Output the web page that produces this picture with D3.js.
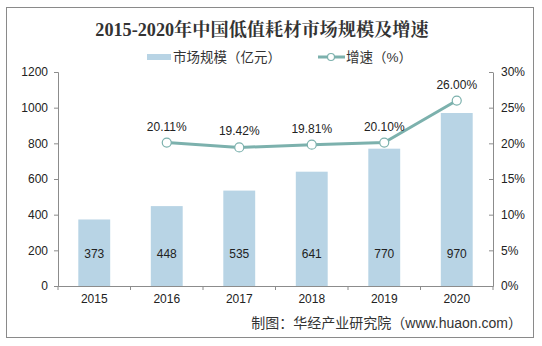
<!DOCTYPE html>
<html>
<head>
<meta charset="utf-8">
<script src="https://cdn.jsdelivr.net/npm/d3@7"></script>
<style>
  body { margin: 0; background: #fff; }
  text { font-family: "Liberation Sans", Arial, "Noto Sans CJK SC", sans-serif; }
</style>
</head>
<body>
<svg id="chart" width="542" height="346"></svg>
<script>
var years = ["2015", "2016", "2017", "2018", "2019", "2020"];
var marketSize = [373, 448, 535, 641, 770, 970];
var growth = [null, 20.11, 19.42, 19.81, 20.10, 26.00];
var leftTicks = [0, 200, 400, 600, 800, 1000, 1200];
var rightTicks = [0, 5, 10, 15, 20, 25, 30];

var svg = d3.select("#chart");
var barColor = "#b8d4e5";
var lineColor = "#7cb1ad";
var axisColor = "#8c8c8c";

// outer frame
svg.append("rect")
  .attr("x", 6.5).attr("y", 7.5)
  .attr("width", 527).attr("height", 330)
  .attr("fill", "#fff").attr("stroke", "#8a8a8a").attr("stroke-width", 1);

var m = { left: 58, right: 493, top: 72, bottom: 286 };

var x = d3.scaleBand().domain(years).range([m.left, m.right]).paddingInner(0.56).paddingOuter(0.28);
var xb = d3.scaleBand().domain(years).range([m.left, m.right]);
var yL = d3.scaleLinear().domain([0, 1200]).range([m.bottom, m.top]);
var yR = d3.scaleLinear().domain([0, 30]).range([m.bottom, m.top]);

// title
svg.append("text")
  .attr("x", 262).attr("y", 36)
  .attr("text-anchor", "middle")
  .style("font-family", "'Liberation Serif', 'DejaVu Serif', 'Noto Serif CJK SC', 'Noto Sans CJK SC', serif")
  .style("font-weight", "bold").style("font-size", "18.2px").attr("fill", "#333")
  .text("2015-2020年中国低值耗材市场规模及增速");

// legend
var lg = svg.append("g");
lg.append("rect").attr("x", 147).attr("y", 54).attr("width", 24).attr("height", 6).attr("fill", barColor);
lg.append("text").attr("x", 173).attr("y", 62).style("font-size", "13.5px").attr("fill", "#333").text("市场规模（亿元）");
lg.append("line").attr("x1", 318).attr("x2", 345).attr("y1", 57).attr("y2", 57)
  .attr("stroke", lineColor).attr("stroke-width", 3);
lg.append("circle").attr("cx", 331).attr("cy", 57).attr("r", 3.5)
  .attr("fill", "#fff").attr("stroke", lineColor).attr("stroke-width", 1.2);
lg.append("text").attr("x", 346).attr("y", 62).style("font-size", "13.5px").attr("fill", "#333").text("增速（%）");

// bars
svg.append("g").selectAll("rect")
  .data(marketSize)
  .enter()
  .append("rect")
  .attr("x", function (d, i) { return x(years[i]); })
  .attr("y", function (d) { return yL(d); })
  .attr("width", x.bandwidth())
  .attr("height", function (d) { return yL(0) - yL(d); })
  .attr("fill", barColor);

svg.append("g").selectAll("text")
  .data(marketSize)
  .enter()
  .append("text")
  .attr("x", function (d, i) { return xb(years[i]) + xb.bandwidth() / 2; })
  .attr("y", yL(180) + 4)
  .attr("text-anchor", "middle")
  .style("font-size", "12px").attr("fill", "#222")
  .text(function (d) { return d; });

// axes
var leftAxis = svg.append("g")
  .attr("transform", "translate(" + m.left + ",0)")
  .call(d3.axisLeft(yL).tickValues(leftTicks).tickSize(4).tickPadding(6).tickFormat(d3.format("d")));
var rightAxis = svg.append("g")
  .attr("transform", "translate(" + m.right + ",0)")
  .call(d3.axisRight(yR).tickValues(rightTicks).tickSize(0).tickPadding(8)
    .tickFormat(function (d) { return d + "%"; }));
rightAxis.selectAll(".tick").append("line").attr("x1", -4).attr("x2", 0).attr("stroke", axisColor);
var bottomAxis = svg.append("g")
  .attr("transform", "translate(0," + m.bottom + ")")
  .call(d3.axisBottom(xb).tickSize(0).tickPadding(8));
bottomAxis.selectAll(".boundary")
  .data(d3.range(years.length + 1))
  .enter()
  .append("line")
  .attr("x1", function (d) { return m.left + d * xb.step(); })
  .attr("x2", function (d) { return m.left + d * xb.step(); })
  .attr("y1", 0).attr("y2", 4)
  .attr("stroke", axisColor);

[leftAxis, rightAxis, bottomAxis].forEach(function (g) {
  g.select(".domain").attr("stroke", axisColor);
  g.selectAll(".tick line").attr("stroke", axisColor);
  g.selectAll("text").style("font-size", "12px").attr("fill", "#222")
    .style("font-family", "'Liberation Sans', Arial, sans-serif");
});

// growth line
var pts = growth.map(function (g, i) { return { year: years[i], v: g }; })
  .filter(function (d) { return d.v !== null; });
var line = d3.line()
  .x(function (d) { return xb(d.year) + xb.bandwidth() / 2; })
  .y(function (d) { return yR(d.v); });
svg.append("path").datum(pts)
  .attr("d", line).attr("fill", "none")
  .attr("stroke", lineColor).attr("stroke-width", 3);
svg.append("g").selectAll("circle")
  .data(pts).enter().append("circle")
  .attr("cx", function (d) { return xb(d.year) + xb.bandwidth() / 2; })
  .attr("cy", function (d) { return yR(d.v); })
  .attr("r", 4.5)
  .attr("fill", "#fff").attr("stroke", lineColor).attr("stroke-width", 1.2);
svg.append("g").selectAll("text")
  .data(pts).enter().append("text")
  .attr("x", function (d) { return xb(d.year) + xb.bandwidth() / 2; })
  .attr("y", function (d) { return yR(d.v) - 12; })
  .attr("text-anchor", "middle")
  .style("font-size", "12px").attr("fill", "#222")
  .text(function (d) { return d.v.toFixed(2) + "%"; });

// source note
svg.append("text")
  .attr("x", 522).attr("y", 328)
  .attr("text-anchor", "end")
  .style("font-size", "14px").attr("fill", "#333")
  .text("制图：华经产业研究院（www.huaon.com）");
</script>
</body>
</html>
